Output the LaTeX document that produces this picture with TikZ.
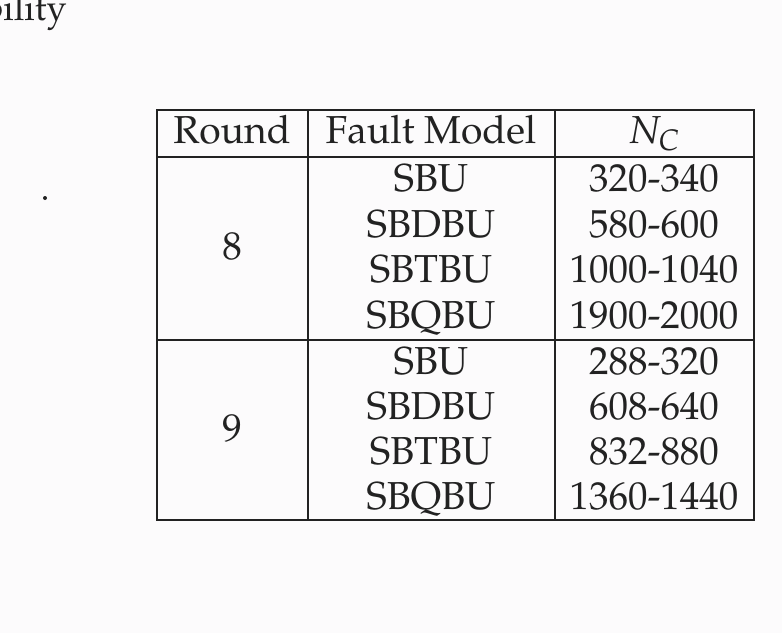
\documentclass[tikz,border=0pt]{standalone}
\usepackage[T1]{fontenc}
\usepackage{mathpazo}
\usetikzlibrary{calc}
\definecolor{ink}{HTML}{222222}
\definecolor{paper}{HTML}{FCFBFC}
\tikzset{rule/.style={line width=1.2pt,color=ink},
  cell/.style={anchor=base,inner sep=0pt,text=ink}}

\begin{document}
\begin{tikzpicture}[x=0.5pt,y=-0.5pt,font=\fontsize{19.5}{22}\selectfont]
  \clip (0,0) rectangle (782,633);
  \fill[paper] (0,0) rectangle (782,633);
  \node[cell,anchor=base east,font=\fontsize{18}{20}\selectfont] (title) at (67,20) {bility};
  \fill[ink] (45,198) circle (1pt);

  % table frame
  \draw[rule] (157,110) rectangle (754,520);
  \draw[rule] (157,157) -- (754,157);
  \draw[rule] (157,340) -- (754,340);
  \draw[rule] (308,110) -- (308,520);
  \draw[rule] (555,110) -- (555,520);

  % header
  \node[cell] (hround) at (232,143) {Round};
  \node[cell] (hmodel) at (431,143) {Fault Model};
  \node[cell] (hnc) at (654,143) {$N_C$};

  % round 8
  \node[cell] (r8) at (232,259) {8};
  \foreach \m/\n [count=\i] in {SBU/320-340,SBDBU/580-600,SBTBU/1000-1040,SBQBU/1900-2000}{
    \node[cell] (m8-\i) at (431,157+45.5*\i-11) {\m};
    \node[cell] (c8-\i) at (654,157+45.5*\i-11) {\n};
  }

  % round 9
  \node[cell] (r9) at (232,441) {9};
  \foreach \m/\n [count=\i] in {SBU/288-320,SBDBU/608-640,SBTBU/832-880,SBQBU/1360-1440}{
    \node[cell] (m9-\i) at (431,340+45*\i-11) {\m};
    \node[cell] (c9-\i) at (654,340+45*\i-11) {\n};
  }
\end{tikzpicture}
\end{document}
